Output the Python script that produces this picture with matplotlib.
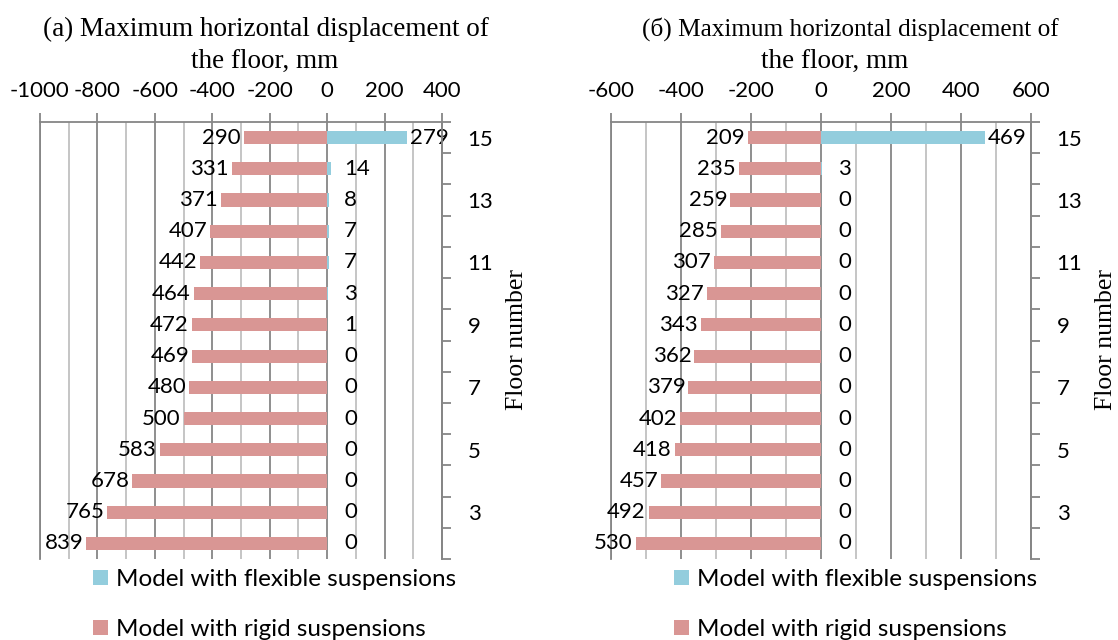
import matplotlib.pyplot as plt
from matplotlib.ticker import MultipleLocator, FixedLocator, NullFormatter

plt.rcParams['axes.unicode_minus'] = False

# Данные: этажи снизу вверх (нижний столбец -> верхний)
bar_pos = list(range(1, 15))
rigid_a = [839, 765, 678, 583, 500, 480, 469, 472, 464, 442, 407, 371, 331, 290]
flex_a = [0, 0, 0, 0, 0, 0, 0, 1, 3, 7, 7, 8, 14, 279]
rigid_b = [530, 492, 457, 418, 402, 379, 362, 343, 327, 307, 285, 259, 235, 209]
flex_b = [0, 0, 0, 0, 0, 0, 0, 0, 0, 0, 0, 0, 3, 469]

right_ticklabels = ['3', '5', '7', '9', '11', '13', '15']

titles = [('(a) Maximum horizontal displacement of', 'the floor, mm'),
          ('(б) Maximum horizontal displacement of', 'the floor, mm')]
xlims = [(-1000, 400), (-600, 600)]
legend_labels = ['Model with flexible suspensions', 'Model with rigid suspensions']

FLEX = '#93CDDD'
RIGID = '#D99694'
MAJOR = '#868686'
MINOR = '#C0C0C0'
SANS = ['Lato', 'DejaVu Sans']
SERIF = ['Liberation Serif', 'DejaVu Serif']
FS = 16

W, H = 1118, 640
fig = plt.figure(figsize=(W / 100, H / 100), dpi=100)

# положения осей в пикселях: (лево, право)
ax_px = [(40, 442), (611, 1031)]
top_px, bot_px = 122, 559
title_cx = [(266, 265), (850, 835)]
title_fs = [(19.5, 19.5), (18.2, 19.5)]
legend_x = [93, 674]


def draw_panel(idx, rigid, flex):
    l, r = ax_px[idx]
    ax = fig.add_axes([l / W, 1 - bot_px / H, (r - l) / W, (bot_px - top_px) / H])
    xmin, xmax = xlims[idx]
    n = len(bar_pos)
    ax.set_xlim(xmin, xmax)
    ax.set_ylim(0.5, n + 0.5)

    ax.set_axisbelow(True)
    ax.xaxis.set_major_locator(MultipleLocator(200))
    ax.xaxis.set_minor_locator(MultipleLocator(100))
    ax.grid(True, which='major', axis='x', color=MAJOR, lw=1.3)
    ax.grid(True, which='minor', axis='x', color=MINOR, lw=1.3)
    ax.xaxis.tick_top()
    ax.tick_params(axis='x', which='major', length=6.5, width=1.3, color=MAJOR,
                   labelsize=FS, pad=8.5)
    ax.tick_params(axis='x', which='minor', length=0)
    for lab in ax.get_xticklabels():
        lab.set_family(SANS)
    ax.set_yticks([])

    ax.spines['bottom'].set_visible(False)
    for s in ['top', 'left', 'right']:
        ax.spines[s].set_color(MAJOR)
        ax.spines[s].set_linewidth(1.3)

    h = 0.42
    b_flex = ax.barh(bar_pos, flex, height=h, color=FLEX, zorder=3)
    b_rig = ax.barh(bar_pos, [-v for v in rigid], height=h, color=RIGID, zorder=3)

    # подписи значений
    px_per_unit = (r - l) / (xmax - xmin)
    for y, v in zip(bar_pos, rigid):
        ax.annotate(str(v), xy=(-v, y), xytext=(-3, 0), textcoords='offset pixels',
                    ha='right', va='center', fontsize=FS, family=SANS, zorder=4)
    for y, v in zip(bar_pos, flex):
        off = max(3, 17 - v * px_per_unit)
        ax.annotate(str(v), xy=(v, y), xytext=(off, 0), textcoords='offset pixels',
                    ha='left', va='center', fontsize=FS, family=SANS, zorder=4)

    # вторичная ось этажей справа
    ax2 = ax.twinx()
    ax2.set_ylim(0, 14)
    ax2.yaxis.set_major_locator(FixedLocator(range(0, 15)))
    ax2.yaxis.set_major_formatter(NullFormatter())
    ax2.yaxis.set_minor_locator(FixedLocator([1.5, 3.5, 5.5, 7.5, 9.5, 11.5, 13.5]))
    ax2.set_yticklabels(right_ticklabels, minor=True)
    ax2.tick_params(axis='y', which='major', length=6.5, width=1.3, color=MAJOR)
    ax2.tick_params(axis='y', which='minor', length=0, labelsize=FS, pad=18.5)
    for lab in ax2.get_yticklabels(minor=True):
        lab.set_family(SANS)
    for s in ['top', 'left', 'bottom']:
        ax2.spines[s].set_visible(False)
    ax2.spines['right'].set_color(MAJOR)
    ax2.spines['right'].set_linewidth(1.3)

    t1, t2 = titles[idx]
    c1, c2 = title_cx[idx]
    f1, f2 = title_fs[idx]
    fig.text(c1 / W, 1 - 36 / H, t1, ha='center', va='baseline', fontsize=f1, family=SERIF)
    fig.text(c2 / W, 1 - 68 / H, t2, ha='center', va='baseline', fontsize=f2, family=SERIF)
    fig.text((r + 75) / W, 1 - 340 / H, 'Floor number', rotation=90,
             ha='center', va='center', fontsize=18.5, family=SERIF)

    ax.legend([b_flex, b_rig], legend_labels, loc='upper left',
              bbox_to_anchor=(legend_x[idx] / W, 1 - 569 / H),
              bbox_transform=fig.transFigure, frameon=False,
              prop={'family': SANS, 'size': 17.5}, handlelength=0.6, handleheight=0.6,
              handletextpad=0.35, labelspacing=1.2, borderpad=0, borderaxespad=0)


draw_panel(0, rigid_a, flex_a)
draw_panel(1, rigid_b, flex_b)

fig.savefig('out.png', dpi=100)
